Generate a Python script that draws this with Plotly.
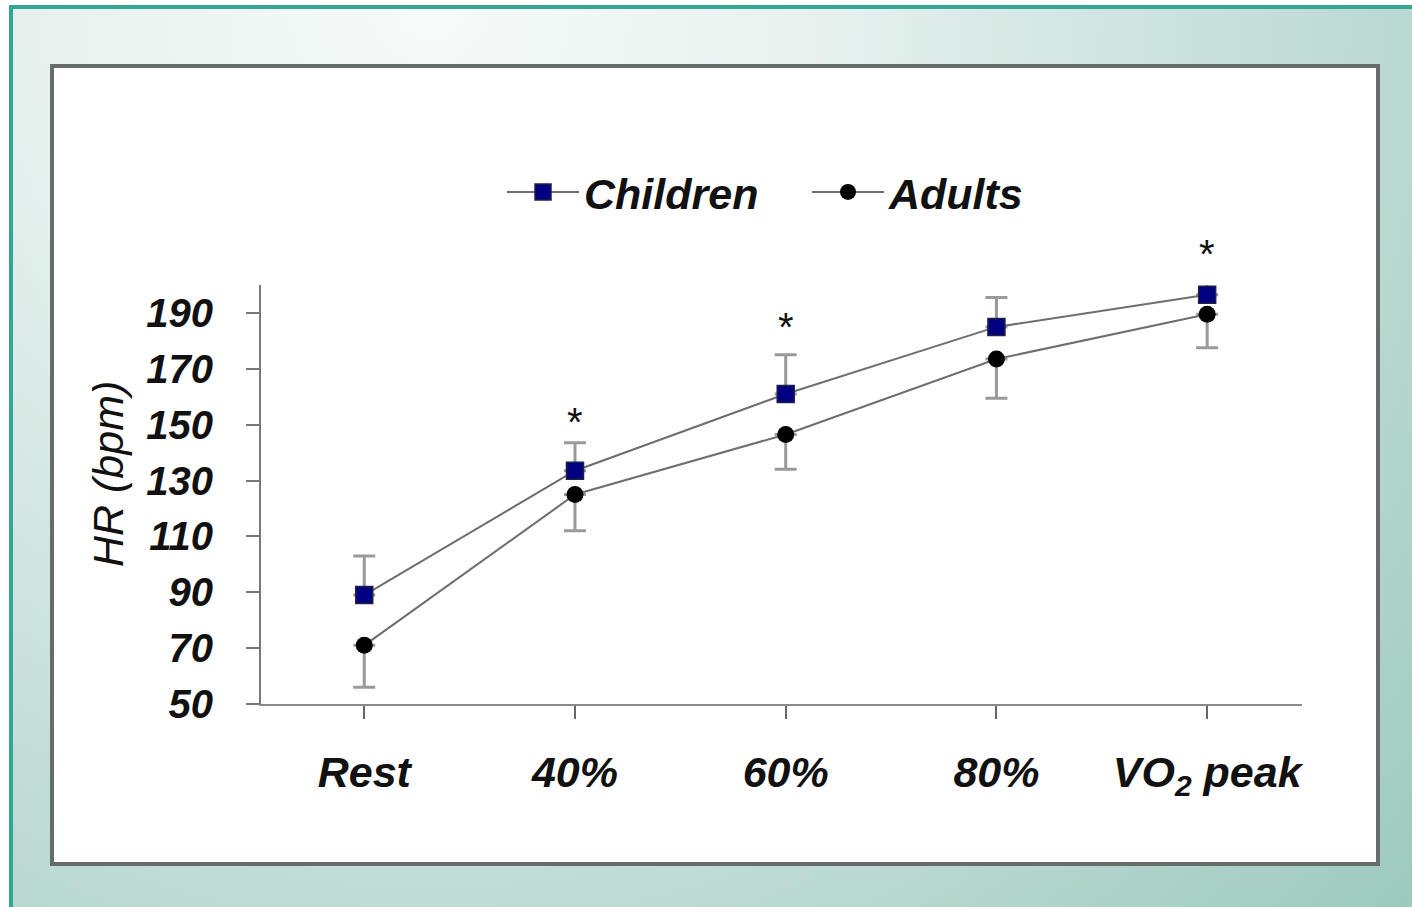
import base64
import plotly.graph_objects as go

# ---------------- data ----------------
categories = ["Rest", "40%", "60%", "80%", "VO<sub>2</sub> peak"]
children_hr = [89, 133.5, 161, 185, 196.5]
children_sd = [14, 10, 14, 10.5, 6]
adults_hr = [71, 125, 146.5, 173.5, 189.5]
adults_sd = [15, 13, 12.5, 14, 12]
y_ticks = [50, 70, 90, 110, 130, 150, 170, 190]
y_range = [50, 200]
star_categories = ["40%", "60%", "VO<sub>2</sub> peak"]
star_heights = [151, 185, 211]

# ---------------- layout geometry ----------------
W, H = 1412, 907
L, R, T, B = 261, 1302, 285, 704
PW, PH = R - L, B - T


def px(x):
    return (x - L) / PW


def py(y):
    return (B - y) / PH


FONT = "Liberation Sans, Arial, sans-serif"

svg = f'''<svg xmlns="http://www.w3.org/2000/svg" width="1403" height="902">
<defs><radialGradient id="g" gradientUnits="userSpaceOnUse" cx="420" cy="0" r="1340">
<stop offset="0" stop-color="#f7fbfa"/>
<stop offset="0.3" stop-color="#e6f1ee"/>
<stop offset="0.65" stop-color="#c2ddd6"/>
<stop offset="1" stop-color="#9cc9be"/>
</radialGradient></defs>
<rect x="0" y="0" width="1403" height="902" fill="url(#g)"/></svg>'''
src = "data:image/svg+xml;base64," + base64.b64encode(svg.encode()).decode()

fig = go.Figure()

fig.add_trace(go.Scatter(
    x=categories, y=children_hr, name="Children", mode="lines+markers",
    cliponaxis=False,
    line=dict(color="#6e6e6e", width=2),
    marker=dict(symbol="square", size=17, color="#000080",
                line=dict(color="#20204a", width=1.5)),
    error_y=dict(type="data", symmetric=False, array=children_sd,
                 arrayminus=[0] * len(children_sd),
                 color="#9a9a9a", thickness=3, width=11),
))
fig.add_trace(go.Scatter(
    x=categories, y=adults_hr, name="Adults", mode="lines+markers",
    cliponaxis=False,
    line=dict(color="#6e6e6e", width=2),
    marker=dict(symbol="circle", size=17, color="#000000"),
    error_y=dict(type="data", symmetric=False, array=[0] * len(adults_sd),
                 arrayminus=adults_sd,
                 color="#9a9a9a", thickness=3, width=11),
))

for c, h in zip(star_categories, star_heights):
    fig.add_annotation(x=c, y=(h - y_range[0]) / (y_range[1] - y_range[0]),
                       xref="x", yref="paper", text="*", showarrow=False,
                       font=dict(family=FONT, size=40, color="#111"),
                       yanchor="middle")

fig.add_annotation(x=px(108), y=py(474), xref="paper", yref="paper",
                   text="<i>HR (bpm)</i>", textangle=-90, showarrow=False,
                   font=dict(family=FONT, size=43, color="#111"),
                   xanchor="center", yanchor="middle")

fig.add_layout_image(dict(
    source=src, xref="paper", yref="paper", x=px(9), y=py(5),
    sizex=1403 / PW, sizey=902 / PH, xanchor="left", yanchor="top",
    sizing="stretch", layer="below"))

shapes = [
    dict(type="rect", xref="paper", yref="paper", x0=px(52), x1=px(1378),
         y0=py(864), y1=py(66), fillcolor="white",
         line=dict(color="#676c6a", width=4), layer="below"),
    dict(type="rect", xref="paper", yref="paper", x0=px(9), x1=px(1412),
         y0=py(9), y1=py(5), fillcolor="#33a794", line=dict(width=0), layer="below"),
    dict(type="rect", xref="paper", yref="paper", x0=px(9), x1=px(13),
         y0=py(907), y1=py(5), fillcolor="#33a794", line=dict(width=0), layer="below"),
]

fig.update_layout(
    width=W, height=H,
    margin=dict(l=L, r=W - R, t=T, b=H - B, pad=0),
    paper_bgcolor="white", plot_bgcolor="rgba(0,0,0,0)",
    shapes=shapes,
    showlegend=True,
    legend=dict(orientation="h", x=px(502), y=py(192), xanchor="left",
                yanchor="middle", bgcolor="rgba(0,0,0,0)",
                font=dict(family=FONT, size=43, color="#111", weight="bold",
                          style="italic"),
                itemwidth=72, entrywidthmode="pixels", entrywidth=218),
    xaxis=dict(type="category", range=[-0.49, 4.45], showline=True,
               linecolor="#8a8a8a", linewidth=2, ticks="outside", ticklen=13,
               tickwidth=2, tickcolor="#666", showgrid=False, zeroline=False,
               tickfont=dict(family=FONT, size=43, color="#111", weight="bold",
                             style="italic"),
               ticklabelstandoff=16, fixedrange=True),
    yaxis=dict(range=y_range, tickvals=y_ticks, showline=True,
               linecolor="#7a7a7a", linewidth=2, ticks="outside", ticklen=13,
               tickwidth=2, tickcolor="#777", showgrid=False, zeroline=False,
               tickfont=dict(family=FONT, size=40, color="#111", weight="bold",
                             style="italic"),
               ticklabelstandoff=25, fixedrange=True),
)

fig.write_html("out.html", config={"displayModeBar": False},
               post_script="document.body.style.margin='0';"
                           "document.body.style.overflow='hidden';")
